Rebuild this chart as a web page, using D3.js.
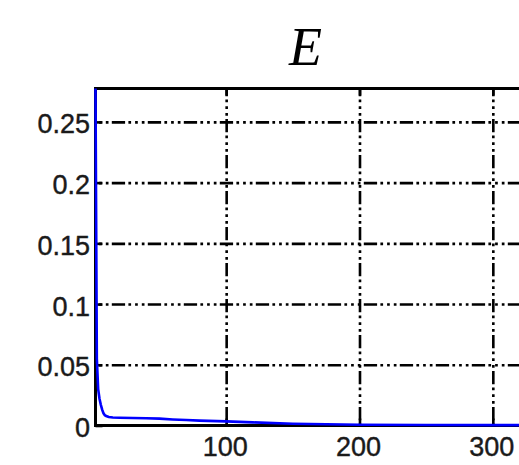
<!DOCTYPE html>
<html>
<head>
<meta charset="utf-8">
<script src="https://cdn.jsdelivr.net/npm/d3@7"></script>
<style>
  html, body { margin: 0; padding: 0; background: #fff; }
  svg { display: block; }
</style>
</head>
<body>
<div id="chart"></div>
<script>
// iteration numbers and E values
const iterations = [2, 3, 4, 5, 6, 7, 8, 9, 10, 12, 15, 20, 30, 40, 50, 60, 70, 80, 100, 120, 150, 200, 250, 300, 350, 400];
const eValues = [0.2775, 0.055, 0.03, 0.022, 0.017, 0.013, 0.010, 0.0085, 0.0078, 0.0070, 0.0066, 0.0064, 0.0062, 0.0060, 0.0057, 0.0050, 0.0045, 0.0040, 0.0034, 0.0026, 0.0015, 0.0006, 0.0004, 0.0003, 0.00025, 0.0002];
const xTicks = [100, 200, 300];
const yTicks = [0, 0.05, 0.1, 0.15, 0.2, 0.25];

const width = 519;
const height = 465;
const margin = { top: 88.5, left: 95.5 };
const plotW = 530;   // plot runs past the right edge, as in the crop
const plotH = 337;

const svg = d3.select("#chart").append("svg")
    .attr("width", width)
    .attr("height", height);

// title
svg.append("text")
    .attr("x", 305.5)
    .attr("y", 65)
    .attr("text-anchor", "middle")
    .style("font-family", "'Liberation Serif', 'Times New Roman', serif")
    .style("font-style", "italic")
    .style("font-size", "54px")
    .text("E");

const g = svg.append("g")
    .attr("transform", `translate(${margin.left},${margin.top})`);

const x = d3.scaleLinear().domain([2, 2 + plotW / 1.3333]).range([0, plotW]);
const y = d3.scaleLinear().domain([0, 0.2775]).range([plotH, 0]);

const gridDash = "13.3,3.3,2.7,4,2.7,4,2.7,3.3";

// horizontal grid
g.append("g")
    .attr("class", "grid")
    .call(d3.axisLeft(y).tickValues(yTicks.filter(d => d > 0)).tickSize(-plotW).tickFormat(""))
    .call(s => s.select(".domain").remove())
    .selectAll("line")
    .attr("stroke", "#000")
    .attr("stroke-width", 2.6)
    .attr("stroke-dasharray", gridDash)
    .attr("stroke-dashoffset", 19.7);

// vertical grid
g.append("g")
    .attr("class", "grid")
    .attr("transform", `translate(0,${plotH})`)
    .call(d3.axisBottom(x).tickValues(xTicks).tickSize(-plotH).tickFormat(""))
    .call(s => s.select(".domain").remove())
    .selectAll("line")
    .attr("stroke", "#000")
    .attr("stroke-width", 2.6)
    .attr("stroke-dasharray", gridDash)
    .attr("stroke-dashoffset", 30.8);

const labelFont = "'Liberation Sans', Arial, sans-serif";

// y axis ticks and labels
g.append("g")
    .call(d3.axisLeft(y).tickValues(yTicks).tickSize(-7).tickSizeOuter(0).tickPadding(5.5).tickFormat(d => String(d)))
    .call(s => s.select(".domain").remove())
    .call(s => s.selectAll("line").attr("stroke", "#000").attr("stroke-width", 2.6))
    .call(s => s.selectAll("text")
        .attr("dy", 11)
        .attr("fill", "#1a1a1a")
        .attr("stroke", "#1a1a1a")
        .attr("stroke-width", 0.4)
        .style("font-family", labelFont)
        .style("font-size", "27px"));

// x axis ticks and labels
g.append("g")
    .attr("transform", `translate(0,${plotH})`)
    .call(d3.axisBottom(x).tickValues(xTicks).tickSize(-7).tickSizeOuter(0).tickFormat(d => String(d)))
    .call(s => s.select(".domain").remove())
    .call(s => s.selectAll("line").attr("stroke", "#000").attr("stroke-width", 2.6))
    .call(s => s.selectAll("text")
        .attr("y", 30.5)
        .attr("dy", null)
        .attr("dx", -1.5)
        .attr("fill", "#1a1a1a")
        .attr("stroke", "#1a1a1a")
        .attr("stroke-width", 0.4)
        .style("font-family", labelFont)
        .style("font-size", "27px"));

// top ticks
g.append("g")
    .call(d3.axisTop(x).tickValues(xTicks).tickSize(-7).tickSizeOuter(0).tickFormat(""))
    .call(s => s.select(".domain").remove())
    .selectAll("line").attr("stroke", "#000").attr("stroke-width", 2.6);

// box
g.append("path")
    .attr("d", `M${plotW},0H0V${plotH}H${plotW}`)
    .attr("fill", "none")
    .attr("stroke", "#000")
    .attr("stroke-width", 3);

// E curve
const line = d3.line()
    .x((d, i) => x(iterations[i]))
    .y(d => y(d));

g.append("path")
    .datum(eValues)
    .attr("fill", "none")
    .attr("stroke", "#0000ff")
    .attr("stroke-width", 2.6)
    .attr("d", line);
</script>
</body>
</html>
